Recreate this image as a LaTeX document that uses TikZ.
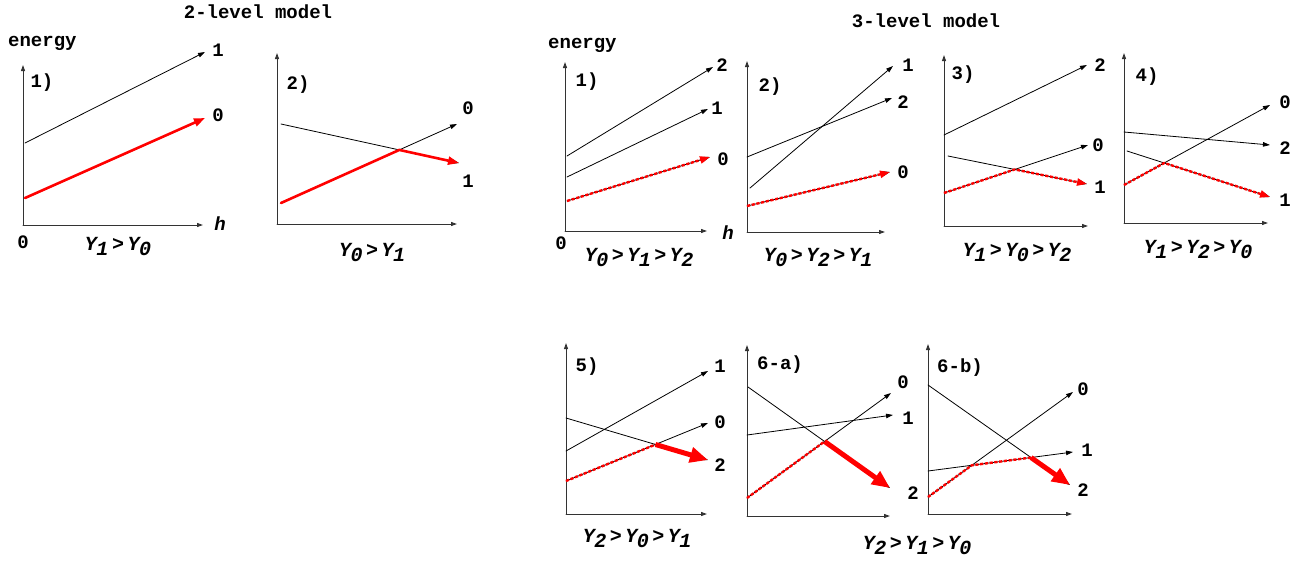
\documentclass[tikz,border=0pt]{standalone}
\usepackage{fontspec}
\setmainfont{Liberation Mono}
\usetikzlibrary{arrows.meta}
\newcommand\Ylv[1]{\textit{Y\kern-0.5pt\raisebox{-5pt}{#1}}}
\newcommand\gtlv{\hspace{3.5pt}>\hspace{3.5pt}}
\tikzset{
  every picture/.append style={line cap=round,line join=round},
  lvl axis/.style={black!80,line width=1pt,-{Triangle[length=6pt,width=4pt]}},
  lvl line/.style={black,line width=0.8pt,-{Triangle[length=7pt,width=4.5pt]}},
  lvl flow/.style={red,line width=2.6pt,-{Triangle[length=11pt,width=8pt]}},
  lvl path/.style={red,line width=2.4pt,line cap=butt,dash pattern=on 3.2pt off 1.6pt,-{Triangle[length=10pt,width=7pt]}},
  lvl jump/.style={red,line width=5pt,line cap=butt,-{Triangle[length=18pt,width=15pt]}},
  lvl note/.style={font=\fontsize{19}{22}\selectfont\bfseries,inner sep=0pt},
  lvl cond/.style={font=\fontsize{20}{24}\selectfont\bfseries,inner sep=0pt}
}
\begin{document}
\begin{tikzpicture}[x=1pt,y=-1pt]
  \useasboundingbox (0,0) rectangle (1316,563);
  % axes of all panels
  \foreach \n/\ox/\oy/\ty/\ex in {A/23/225/65/203, B/277/224/53/457,
      P/565/231/62/707, Q/747/232/61/885, R/944/226/55/1088, S/1124/223/53/1268,
      T/566/514/343/707, U/747/516/345/890, V/928/514/344/1072} {
    \coordinate (\n o) at (\ox,\oy);
    \coordinate (\n y) at (\ox,\ty);
    \coordinate (\n x) at (\ex,\oy);
    \draw[lvl axis] (\n o) -- (\n y);
    \draw[lvl axis] (\n o) -- (\n x);
  }
  % level lines: start and end
  \foreach \n/\sx/\sy/\ex/\ey in {A1/25/143/205/52, A0/25/198/205/118,
      B1/281/124/459/163, B0/281/203/457/124,
      P2/567/156/713/67, P1/567/177/708/109, P0/567/201/710/157,
      Q2/747/157/892/98, Q1/750/188/893/66, Q0/747/206/890/172,
      R2/944/135/1087/65, R1/948/156/1087/184, R0/944/193/1088/145,
      S2/1124/132/1270/145, S1/1127/151/1270/197, S0/1124/185/1270/105,
      T1/566/451/708/371, T2/566/418/708/460, T0/566/481/708/423,
      U2/748/387/890/488, U1/747/435/893/415, U0/747/498/891/393,
      V2/928/385/1070/485, V1/928/471/1073/452, V0/928/497/1073/392} {
    \coordinate (\n s) at (\sx,\sy);
    \coordinate (\n e) at (\ex,\ey);
  }
  % crossings
  \coordinate (Bx) at (intersection of B0s--B0e and B1s--B1e);
  \coordinate (Rx) at (intersection of R0s--R0e and R1s--R1e);
  \coordinate (Sx) at (intersection of S0s--S0e and S1s--S1e);
  \coordinate (Tx) at (intersection of T0s--T0e and T2s--T2e);
  \coordinate (Ux) at (intersection of U0s--U0e and U2s--U2e);
  \coordinate (Vx) at (intersection of V0s--V0e and V1s--V1e);
  \coordinate (Vy) at (intersection of V1s--V1e and V2s--V2e);

  % 2-level model
  \node[lvl note] (t2) at (258,12) {2-level model};
  \node[lvl note,anchor=west] (Aen) at (8,43) {energy};
  \node[lvl note] (Ak) at (42,83) {1)};
  \draw[lvl line] (A1s) -- (A1e);
  \draw[lvl flow] (A0s) -- (A0e);
  \node[lvl note] (A1n) at (218,50) {1};
  \node[lvl note] (A0n) at (218,115) {0};
  \node[lvl note,font=\fontsize{19}{22}\selectfont\bfseries\itshape] (Ah) at (220,224) {h};
  \node[lvl note] (Az) at (23,242) {0};
  \node[lvl cond] (Ac) at (118,247) {\Ylv{1}\gtlv\Ylv{0}};

  \node[lvl note] (Bk) at (298,85) {2)};
  \draw[lvl line] (B1s) -- (B1e);
  \draw[lvl line] (B0s) -- (B0e);
  \draw[lvl flow] (B0s) -- (Bx) -- (B1e);
  \node[lvl note] (B0n) at (468,108) {0};
  \node[lvl note] (B1n) at (468,181) {1};
  \node[lvl cond] (Bc) at (372,253) {\Ylv{0}\gtlv\Ylv{1}};

  % 3-level model
  \node[lvl note] (t3) at (926,21) {3-level model};
  \node[lvl note,anchor=west] (Pen) at (548,45) {energy};
  \node[lvl note] (Pk) at (587,82) {1)};
  \draw[lvl line] (P2s) -- (P2e);
  \draw[lvl line] (P1s) -- (P1e);
  \draw[lvl line] (P0s) -- (P0e);
  \draw[lvl path] (P0s) -- (P0e);
  \node[lvl note] (P2n) at (722,65) {2};
  \node[lvl note] (P1n) at (717,108) {1};
  \node[lvl note] (P0n) at (723,159) {0};
  \node[lvl note,font=\fontsize{19}{22}\selectfont\bfseries\itshape] (Ph) at (728,233) {h};
  \node[lvl note] (Pz) at (561,243) {0};
  \node[lvl cond] (Pc) at (639,258) {\Ylv{0}\gtlv\Ylv{1}\gtlv\Ylv{2}};

  \node[lvl note] (Qk) at (770,87) {2)};
  \draw[lvl line] (Q2s) -- (Q2e);
  \draw[lvl line] (Q1s) -- (Q1e);
  \draw[lvl line] (Q0s) -- (Q0e);
  \draw[lvl path] (Q0s) -- (Q0e);
  \node[lvl note] (Q1n) at (908,65) {1};
  \node[lvl note] (Q2n) at (903,102) {2};
  \node[lvl note] (Q0n) at (903,172) {0};
  \node[lvl cond] (Qc) at (818,258) {\Ylv{0}\gtlv\Ylv{2}\gtlv\Ylv{1}};

  \node[lvl note] (Rk) at (963,75) {3)};
  \draw[lvl line] (R2s) -- (R2e);
  \draw[lvl line] (R1s) -- (R1e);
  \draw[lvl line] (R0s) -- (R0e);
  \draw[lvl path] (R0s) -- (Rx) -- (R1e);
  \node[lvl note] (R2n) at (1100,65) {2};
  \node[lvl note] (R0n) at (1098,145) {0};
  \node[lvl note] (R1n) at (1100,187) {1};
  \node[lvl cond] (Rc) at (1017,253) {\Ylv{1}\gtlv\Ylv{0}\gtlv\Ylv{2}};

  \node[lvl note] (Sk) at (1147,77) {4)};
  \draw[lvl line] (S2s) -- (S2e);
  \draw[lvl line] (S1s) -- (S1e);
  \draw[lvl line] (S0s) -- (S0e);
  \draw[lvl path] (S0s) -- (Sx) -- (S1e);
  \node[lvl note] (S0n) at (1285,102) {0};
  \node[lvl note] (S2n) at (1285,148) {2};
  \node[lvl note] (S1n) at (1285,200) {1};
  \node[lvl cond] (Sc) at (1198,250) {\Ylv{1}\gtlv\Ylv{2}\gtlv\Ylv{0}};

  \node[lvl note] (Tk) at (587,367) {5)};
  \draw[lvl line] (T1s) -- (T1e);
  \draw[lvl line] (T2s) -- (T2e);
  \draw[lvl line] (T0s) -- (T0e);
  \draw[lvl path,-] (T0s) -- (Tx);
  \draw[lvl jump] (Tx) -- (T2e);
  \node[lvl note] (T1n) at (720,366) {1};
  \node[lvl note] (T0n) at (720,422) {0};
  \node[lvl note] (T2n) at (720,465) {2};
  \node[lvl cond] (Tc) at (637,538) {\Ylv{2}\gtlv\Ylv{0}\gtlv\Ylv{1}};

  \node[lvl note] (Uk) at (780,365) {6-a)};
  \draw[lvl line] (U2s) -- (U2e);
  \draw[lvl line] (U1s) -- (U1e);
  \draw[lvl line] (U0s) -- (U0e);
  \draw[lvl path,-] (U0s) -- (Ux);
  \draw[lvl jump] (Ux) -- (U2e);
  \node[lvl note] (U0n) at (903,382) {0};
  \node[lvl note] (U1n) at (908,418) {1};
  \node[lvl note] (U2n) at (913,493) {2};

  \node[lvl note] (Vk) at (960,368) {6-b)};
  \draw[lvl line] (V2s) -- (V2e);
  \draw[lvl line] (V1s) -- (V1e);
  \draw[lvl line] (V0s) -- (V0e);
  \draw[lvl path,-] (V0s) -- (Vx) -- (Vy);
  \draw[lvl jump] (Vy) -- (V2e);
  \node[lvl note] (V0n) at (1083,389) {0};
  \node[lvl note] (V1n) at (1087,450) {1};
  \node[lvl note] (V2n) at (1083,490) {2};
  \node[lvl cond] (UVc) at (917,545) {\Ylv{2}\gtlv\Ylv{1}\gtlv\Ylv{0}};
\end{tikzpicture}
\end{document}
